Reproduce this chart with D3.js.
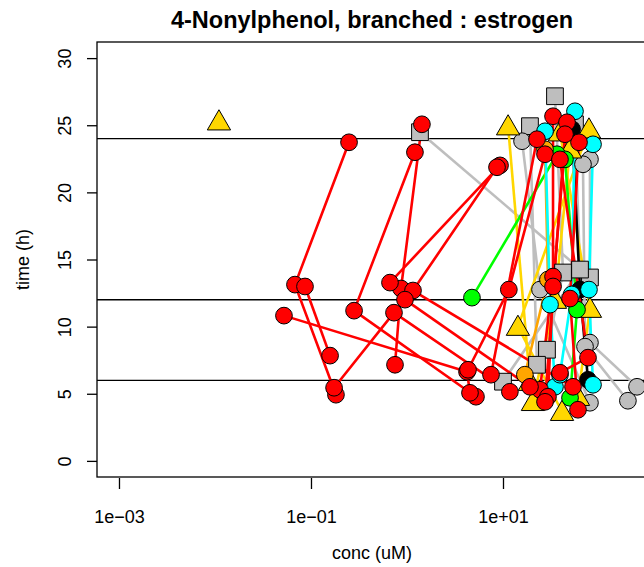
<!DOCTYPE html>
<html>
<head>
<meta charset="utf-8">
<script src="https://cdnjs.cloudflare.com/ajax/libs/d3/7.8.5/d3.min.js"></script>
<style>
body { margin: 0; background: #fff; }
svg { display: block; font-family: "Liberation Sans", Arial, sans-serif; }
</style>
</head>
<body>
<svg width="644" height="567"></svg>
<script>
// chart text and ticks
var title = "4-Nonylphenol, branched : estrogen";
var xLabel = "conc (uM)";
var yLabel = "time (h)";
var xTicks = [1e-3, 1e-1, 1e1];
var xTickLabels = ["1e\u221203", "1e\u221201", "1e+01"];
var yTicks = [0, 5, 10, 15, 20, 25, 30];
var refTimes = [6, 12, 24];

// one entry per series: colour, marker, concentrations (uM), times (h)
var seriesColor = [
    "#BEBEBE", "#BEBEBE", "#BEBEBE", "#BEBEBE",
    "#BEBEBE", "#BEBEBE", "#BEBEBE",
    "#FFD700", "#FFD700", "#FFD700", "#FFD700", "#FFD700",
    "#00FF00", "#00FF00",
    "#FFA500",
    "#000000",
    "#00FFFF", "#00FFFF", "#00FFFF",
    "#FF0000", "#FF0000", "#FF0000", "#FF0000", "#FF0000", "#FF0000", "#FF0000", "#FF0000",
    "#FF0000", "#FF0000", "#FF0000", "#FF0000", "#FF0000", "#FF0000", "#FF0000", "#FF0000"
];
var seriesShape = [
    "square", "square", "square", "square",
    "circle", "circle", "circle",
    "triangle", "triangle", "triangle", "triangle", "triangle",
    "circle", "circle",
    "circle",
    "circle",
    "circle", "circle", "circle",
    "circle", "circle", "circle", "circle", "circle", "circle", "circle", "circle",
    "circle", "circle", "circle", "circle", "circle", "circle", "circle", "circle"
];
var seriesConc = [
    [34.8, 42.2, 28.7], [19.1, 22.6], [1.365, 80.5], [56.2, 63.4, 10.0],
    [15.8, 24.3, 80.5], [80.5, 80.5, 249], [68.1, 71.5, 200],
    [0.011], [11.3, 19.1], [78.6, 14.3, 41.2], [39.2, 80.5, 60.4], [49.9, 34.8, 20.5],
    [36.5, 4.75], [44.2, 59.0, 49.9],
    [27.4, 29.4, 16.9],
    [52.4, 63.4, 76.8],
    [27.4, 30.9, 34.8], [86.6, 78.6, 86.6], [56.2, 52.0, 39.2],
    [0.249, 0.0681, 0.182], [0.0866, 0.158], [1.21, 0.281, 5.23], [1.43, 0.866, 0.750],
    [9.31, 0.665], [8.66, 1.155, 53.6], [0.174, 0.732, 11.8], [0.0523, 4.22, 4.53],
    [27.4, 11.5, 4.32], [22.6, 7.50], [33.2, 33.2, 24.3], [0.953, 19.1],
    [46.4, 33.2, 29.4], [61.9, 49.9, 60.4], [39.2, 76.8, 39.2], [44.2, 27.4]
];
var seriesTime = [
    [27.16, 14.03, 8.28], [24.93, 7.16], [24.48, 13.66], [25.07, 14.25, 5.90],
    [23.81, 12.76, 4.33], [22.46, 8.81, 5.52], [22.09, 8.51, 4.48],
    [25.3], [24.93, 5.90], [24.70, 10.0, 3.66], [24.48, 11.34, 4.78], [23.21, 12.01, 4.40],
    [22.84, 12.16], [22.46, 11.27, 4.70],
    [23.21, 13.51, 6.42],
    [24.70, 12.76, 6.04],
    [24.55, 11.64, 5.52], [23.58, 12.76, 5.67], [26.04, 12.4, 6.42],
    [23.73, 13.13, 4.93], [12.99, 7.84], [22.99, 11.19, 4.78], [25.07, 12.84, 7.16],
    [22.01, 13.28], [21.87, 12.69, 5.52], [5.45, 11.04, 5.15], [10.82, 6.64, 5.07],
    [22.84, 12.76, 6.79], [23.96, 6.42], [25.67, 13.73, 5.30], [12.01, 5.52],
    [25.22, 12.99, 4.78], [23.73, 12.09, 3.81], [22.46, 7.69, 6.57], [24.33, 4.40]
];

var svg = d3.select("svg"),
    margin = {top: 42, left: 97},
    width = 550,
    height = 435,
    g = svg.append("g").attr("transform", "translate(" + margin.left + "," + margin.top + ")");

var x = d3.scaleLog()
    .domain([Math.pow(10, -3.229), Math.pow(10, 2.5)])
    .range([0, width]);

var y = d3.scaleLinear()
    .domain([-1.2, 31.2])
    .range([height, 0]);

// series as lists of [conc, time]
var series = seriesConc.map(function (c, i) {
    return {
        color: seriesColor[i],
        shape: seriesShape[i],
        pts: c.map(function (v, j) { return [v, seriesTime[i][j]]; })
    };
});

svg.append("defs").append("clipPath").attr("id", "clip")
    .append("rect").attr("width", width).attr("height", height);

// reference lines
g.selectAll(".ref")
    .data(refTimes)
    .enter().append("line")
    .attr("x1", 0).attr("x2", width)
    .attr("y1", function (d) { return y(d); })
    .attr("y2", function (d) { return y(d); })
    .attr("stroke", "#000")
    .attr("stroke-width", 1.4);

var plot = g.append("g").attr("clip-path", "url(#clip)");

var line = d3.line()
    .x(function (d) { return x(d[0]); })
    .y(function (d) { return y(d[1]); });

plot.selectAll(".trace")
    .data(series.filter(function (s) { return s.pts.length > 1; }))
    .enter().append("path")
    .attr("fill", "none")
    .attr("stroke", function (s) { return s.color; })
    .attr("stroke-width", 2.6)
    .attr("stroke-linejoin", "round")
    .attr("d", function (s) { return line(s.pts); });

var symbolType = {circle: d3.symbolCircle, square: d3.symbolSquare, triangle: d3.symbolTriangle};
var symbolSize = {circle: 220, square: 280, triangle: 235};

series.forEach(function (s) {
    plot.selectAll(null)
        .data(s.pts)
        .enter().append("path")
        .attr("transform", function (d) {
            var dy = s.shape === "triangle" ? 2 : 0;
            return "translate(" + x(d[0]) + "," + (y(d[1]) + dy) + ")";
        })
        .attr("d", d3.symbol().type(symbolType[s.shape]).size(symbolSize[s.shape]))
        .attr("fill", s.color)
        .attr("stroke", "#000")
        .attr("stroke-width", 1);
});

// box
g.append("rect")
    .attr("width", width).attr("height", height)
    .attr("fill", "none")
    .attr("stroke", "#000")
    .attr("stroke-width", 1.3);

// x axis
var xAxis = g.append("g")
    .attr("transform", "translate(0," + (height + 1) + ")")
    .call(d3.axisBottom(x).tickValues(xTicks).tickSize(11).tickPadding(21)
        .tickFormat(function (d, i) { return xTickLabels[i]; }));
xAxis.select(".domain").remove();
xAxis.selectAll("line").attr("stroke-width", 1.3);
xAxis.selectAll("text")
    .attr("font-size", 18)
    .attr("font-family", "Liberation Sans, Arial, sans-serif")
    .attr("fill", "#000");

// y axis
var yAxis = g.append("g")
    .call(d3.axisLeft(y).tickValues(yTicks).tickSize(10));
yAxis.select(".domain").remove();
yAxis.selectAll("line").attr("stroke-width", 1.3);
yAxis.selectAll("text")
    .attr("x", null).attr("dy", null)
    .attr("text-anchor", "middle")
    .attr("transform", "translate(-26,0) rotate(-90)")
    .attr("y", 0)
    .attr("font-size", 18)
    .attr("font-family", "Liberation Sans, Arial, sans-serif")
    .attr("fill", "#000");

// titles
svg.append("text")
    .attr("x", margin.left + width / 2)
    .attr("y", 28)
    .attr("text-anchor", "middle")
    .attr("font-weight", "bold")
    .attr("font-size", 23.5)
    .text(title);

svg.append("text")
    .attr("x", margin.left + width / 2)
    .attr("y", 559)
    .attr("text-anchor", "middle")
    .attr("font-size", 18)
    .text(xLabel);

svg.append("text")
    .attr("transform", "translate(29," + (margin.top + height / 2) + ") rotate(-90)")
    .attr("text-anchor", "middle")
    .attr("font-size", 18)
    .text(yLabel);
</script>
</body>
</html>
